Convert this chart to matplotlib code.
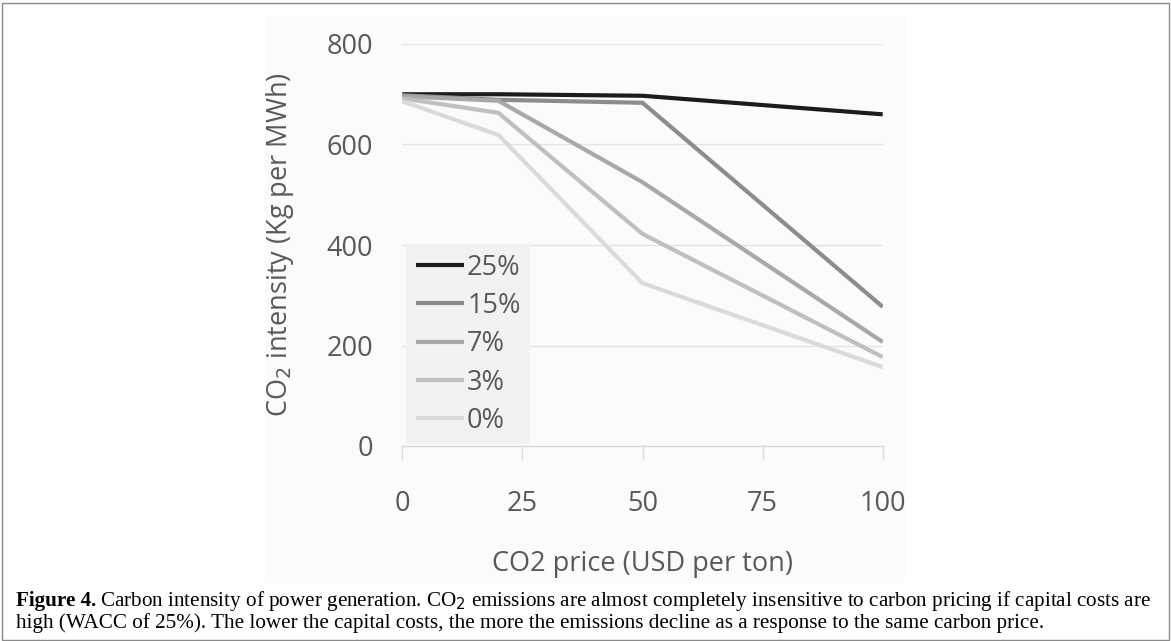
import matplotlib
matplotlib.use("Agg")
import matplotlib.pyplot as plt
from matplotlib.patches import Rectangle

# Data
co2_price = [0, 20, 50, 100]
series_labels = ["25%", "15%", "7%", "3%", "0%"]
wacc_25 = [700, 700, 697, 660]
wacc_15 = [698, 689, 683, 277]
wacc_7 = [696, 687, 525, 207]
wacc_3 = [692, 663, 422, 177]
wacc_0 = [686, 619, 324, 157]
x_ticks = [0, 25, 50, 75, 100]
y_ticks = [0, 200, 400, 600, 800]

colors = ["#1c1c1c", "#8c8c8c", "#a8a8a8", "#bfbfbf", "#dadada"]
txt = "#595959"

fig = plt.figure(figsize=(11.71, 6.41), dpi=100)
W, H = 1171, 641

# outer frame
fig.patches.append(Rectangle((1.5 / W, 1.5 / H), (W - 4) / W, (H - 4) / H,
                             transform=fig.transFigure, fill=False,
                             edgecolor="#8a8a8a", linewidth=1.0, zorder=-10))
# light chart background
fig.patches.append(Rectangle((265 / W, 1 - 583 / H), (905 - 265) / W, (583 - 15) / H,
                             transform=fig.transFigure, facecolor="#fbfbfb",
                             edgecolor="none", zorder=-10))

ax = fig.add_axes([402.3 / W, 1 - 446 / H, (882.7 - 402.3) / W, (446 - 44) / H])
ax.set_facecolor("none")
ax.set_zorder(1)

for vals, lab, c in zip([wacc_25, wacc_15, wacc_7, wacc_3, wacc_0], series_labels, colors):
    ax.plot(co2_price, vals, color=c, lw=3.0, label=lab, solid_capstyle="butt",
            solid_joinstyle="miter", zorder=3)

ax.set_xlim(0, 100)
ax.set_ylim(0, 800)
ax.set_xticks(x_ticks)
ax.set_yticks(y_ticks)
ax.grid(axis="y", color="#e3e3e3", lw=1.0, zorder=0)
ax.set_axisbelow(True)
for s in ["left", "right", "top"]:
    ax.spines[s].set_visible(False)
ax.spines["bottom"].set_color("#d9d9d9")
ax.spines["bottom"].set_linewidth(1.0)
ax.tick_params(axis="x", length=10, width=1.0, color="#d9d9d9", direction="out",
               pad=22, labelsize=19.5, labelcolor=txt)
ax.tick_params(axis="y", length=0, pad=21, labelsize=19.5, labelcolor=txt)
for lab in ax.get_xticklabels() + ax.get_yticklabels():
    lab.set_family("Open Sans")

ax.set_xlabel("CO2 price (USD per ton)", fontsize=19.5, color=txt, family="Open Sans",
              labelpad=23)
ax.set_ylabel("CO$_2$ intensity (Kg per MWh)", fontsize=19.5, color=txt,
              family="Open Sans", labelpad=22)

leg = ax.legend(loc="upper left", bbox_to_anchor=(0.008, 0.502), frameon=True,
                fancybox=False, facecolor="#f1f2f3", edgecolor="none", framealpha=1,
                prop={"family": "Open Sans", "size": 19.5}, labelcolor=txt,
                handlelength=1.8, handletextpad=0.1, labelspacing=0.38,
                borderpad=0.35, borderaxespad=0)
for h in leg.get_lines():
    h.set_linewidth(3.0)

# caption
cap_fs = 15.2
t0 = fig.text(16 / W, 1 - 606 / H, "Figure 4.", fontsize=cap_fs, va="baseline",
              ha="left", family="Liberation Serif", weight="bold")
fig.canvas.draw()
bb = t0.get_window_extent(renderer=fig.canvas.get_renderer())
fig.text(bb.x1 / W + 4 / W, 1 - 606 / H,
         "Carbon intensity of power generation. CO$_2$ emissions are almost completely insensitive to carbon pricing if capital costs are",
         fontsize=cap_fs, va="baseline", ha="left", family="Liberation Serif")
fig.text(16 / W, 1 - 628 / H,
         "high (WACC of 25%). The lower the capital costs, the more the emissions decline as a response to the same carbon price.",
         fontsize=cap_fs, va="baseline", ha="left", family="Liberation Serif")

fig.savefig("out.png", dpi=100)
